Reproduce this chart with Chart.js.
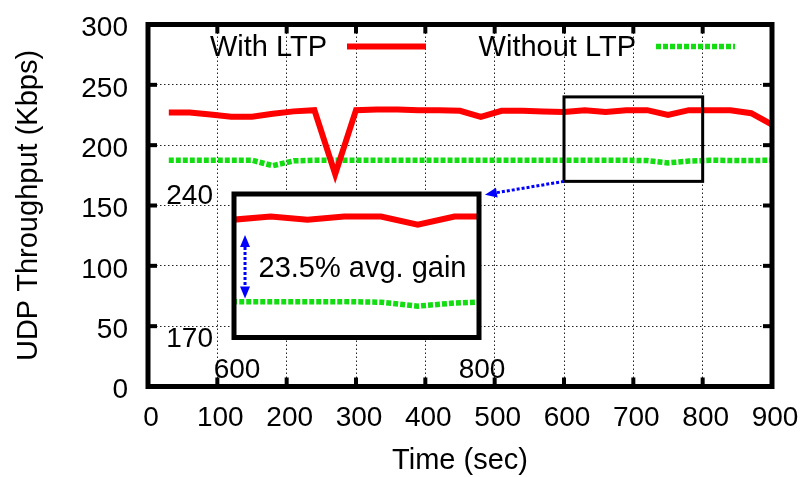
<!DOCTYPE html>
<html>
<head>
<meta charset="utf-8">
<title>UDP throughput</title>
<script src="https://cdn.jsdelivr.net/npm/chart.js@4.4.0/dist/chart.umd.min.js"></script>
<style>
  html, body { margin: 0; padding: 0; background: #fff; }
  #wrap { position: relative; width: 801px; height: 477px; overflow: hidden; }
  #main { position: absolute; left: 0; top: 0; }
  #inset { position: absolute; left: 150px; top: 170px; }
</style>
</head>
<body>
<div id="wrap">
  <canvas id="main" width="801" height="477"></canvas>
  <canvas id="inset" width="359" height="215"></canvas>
</div>
<script>
// sample times (sec) and throughput (Kbps)
const times = [30, 60, 90, 120, 150, 180, 210, 240, 270, 300, 330, 360, 390, 420, 450,
  480, 510, 540, 570, 600, 630, 660, 690, 720, 750, 780, 810, 840, 870, 900];
const withLtp = [227, 227, 225.5, 223.5, 223.5, 226, 228, 229, 176, 229, 229.5, 229.5, 229, 229, 228.5,
  223.5, 228.5, 228.5, 228, 227.5, 229, 227.5, 229, 229, 225, 229, 229, 229, 226.5, 217];
const withoutLtp = [187.5, 187.5, 187.5, 187.5, 187.5, 183, 187, 187.5, 187.5, 187.5, 187.5, 187.5, 187.5, 187.5, 187.5,
  187.5, 187.5, 187.5, 187.5, 187.5, 187.5, 187.5, 187.5, 187.2, 185.3, 186.8, 187.5, 187.3, 187.3, 187.5];
const seriesNames = ["With LTP", "Without LTP"];

// axes
const xRange = [0, 900];
const yRange = [0, 300];
const xStep = 100;
const yStep = 50;

// zoomed window shown in the inset
const zoomX = [600, 800];
const zoomY = [170, 240];
const gainText = "23.5% avg. gain";

const FONT = "'Liberation Sans', Arial, Helvetica, sans-serif";
const RED = "#ff0000";
const GREEN = "#11dd11";
const BLUE = "#0000ff";

const points = (vals) => times.map((t, i) => ({ x: t, y: vals[i] }));

function redSeries(clip) {
  return {
    label: seriesNames[0],
    data: points(withLtp),
    borderColor: RED,
    borderWidth: 6,
    borderJoinStyle: "miter",
    pointRadius: 0,
    tension: 0,
    clip: clip,
  };
}

function greenSeries(clip) {
  return {
    label: seriesNames[1],
    data: points(withoutLtp),
    borderColor: GREEN,
    borderWidth: 5.5,
    borderDash: [5, 2],
    pointRadius: 0,
    tension: 0,
    clip: clip,
  };
}

// keep the plot box where it is: no extra room for edge labels
function fixX(height) {
  return (s) => { s.height = height; s.paddingLeft = 0; s.paddingRight = 0; };
}
function fixY(width) {
  return (s) => { s.width = width; s.paddingTop = 0; s.paddingBottom = 0; };
}

// dotted blue arrow, filled head at the end (and at the start if both)
function drawArrow(ctx, x0, y0, x1, y1, both) {
  const ang = Math.atan2(y1 - y0, x1 - x0);
  const head = 12, half = 5;
  const sx = both ? x0 + Math.cos(ang) * head : x0;
  const sy = both ? y0 + Math.sin(ang) * head : y0;
  const ex = x1 - Math.cos(ang) * head;
  const ey = y1 - Math.sin(ang) * head;
  ctx.save();
  ctx.strokeStyle = BLUE;
  ctx.fillStyle = BLUE;
  ctx.lineWidth = 3;
  ctx.setLineDash([3, 2]);
  ctx.beginPath();
  ctx.moveTo(sx, sy);
  ctx.lineTo(ex, ey);
  ctx.stroke();
  ctx.setLineDash([]);
  const tip = (tx, ty, a) => {
    ctx.beginPath();
    ctx.moveTo(tx, ty);
    ctx.lineTo(tx - Math.cos(a) * head - Math.sin(a) * half, ty - Math.sin(a) * head + Math.cos(a) * half);
    ctx.lineTo(tx - Math.cos(a) * head + Math.sin(a) * half, ty - Math.sin(a) * head - Math.cos(a) * half);
    ctx.closePath();
    ctx.fill();
  };
  tip(x1, y1, ang);
  if (both) tip(x0, y0, ang + Math.PI);
  ctx.restore();
}

function segment(ctx, x0, y0, x1, y1) {
  ctx.beginPath();
  ctx.moveTo(x0, y0);
  ctx.lineTo(x1, y1);
  ctx.stroke();
}

// border, mirrored tics, zoom box, pointer and key for the main plot
const mainDecor = {
  id: "mainDecor",
  afterDatasetsDraw(chart) {
    const { ctx, chartArea: a, scales: { x, y } } = chart;
    ctx.save();
    ctx.strokeStyle = "#000";

    const bx0 = x.getPixelForValue(zoomX[0]);
    const bx1 = x.getPixelForValue(zoomX[1]);
    const by0 = y.getPixelForValue(zoomY[1]);
    const by1 = y.getPixelForValue(zoomY[0]);
    ctx.lineWidth = 3;
    ctx.strokeRect(bx0, by0, bx1 - bx0, by1 - by0);
    drawArrow(ctx, bx0, by1, x.getPixelForValue(486), y.getPixelForValue(159), false);

    ctx.lineWidth = 5;
    ctx.strokeRect(a.left, a.top, a.width, a.height);
    ctx.lineWidth = 4;
    x.ticks.forEach((t) => {
      if (t.value <= x.min || t.value >= x.max) return;
      const px = x.getPixelForValue(t.value);
      segment(ctx, px, a.bottom, px, a.bottom - 9);
      segment(ctx, px, a.top, px, a.top + 9);
    });
    y.ticks.forEach((t) => {
      if (t.value <= y.min || t.value >= y.max) return;
      const py = y.getPixelForValue(t.value);
      segment(ctx, a.left, py, a.left + 9, py);
      segment(ctx, a.right, py, a.right - 9, py);
    });

    // key
    ctx.font = "29px " + FONT;
    ctx.fillStyle = "#000";
    ctx.textAlign = "right";
    ctx.textBaseline = "middle";
    const ky = a.top + 22;
    const keys = [
      { text: seriesNames[0], end: a.left + 179, ds: chart.data.datasets[0] },
      { text: seriesNames[1], end: a.left + 488, ds: chart.data.datasets[1] },
    ];
    keys.forEach((k) => {
      ctx.fillText(k.text, k.end, ky + 1.5);
      ctx.strokeStyle = k.ds.borderColor;
      ctx.lineWidth = k.ds.borderWidth;
      ctx.setLineDash(k.ds.borderDash || []);
      segment(ctx, k.end + 20, ky, k.end + 99, ky);
    });
    ctx.restore();
  },
};

new Chart(document.getElementById("main"), {
  type: "line",
  data: { datasets: [redSeries(false), greenSeries(false)] },
  options: {
    responsive: false,
    animation: false,
    events: [],
    layout: { padding: { top: 24.5, right: 29, left: 0, bottom: 0 } },
    plugins: { legend: { display: false }, tooltip: { enabled: false } },
    scales: {
      x: {
        type: "linear",
        min: xRange[0],
        max: xRange[1],
        afterFit: fixX(90.5),
        grid: { color: "#222", lineWidth: 1, drawTicks: false },
        border: { display: false, dash: [1.5, 2.5] },
        ticks: {
          stepSize: xStep,
          padding: 15,
          labelOffset: 3,
          maxRotation: 0,
          color: "#000",
          font: { family: FONT, size: 28 },
        },
        title: {
          display: true,
          text: "Time (sec)",
          color: "#000",
          font: { family: FONT, size: 29, lineHeight: 1 },
          padding: { top: 0, bottom: 1.5 },
        },
      },
      y: {
        min: yRange[0],
        max: yRange[1],
        afterFit: fixY(148),
        grid: { color: "#222", lineWidth: 1, drawTicks: false },
        border: { display: false, dash: [1.5, 2.5] },
        ticks: {
          stepSize: yStep,
          padding: 20,
          labelOffset: 4,
          color: "#000",
          font: { family: FONT, size: 28 },
        },
        title: {
          display: true,
          text: "UDP Throughput (Kbps)",
          color: "#000",
          font: { family: FONT, size: 29, lineHeight: 1 },
          padding: { top: 14.5, bottom: 0 },
        },
      },
    },
  },
  plugins: [mainDecor],
});

// inset: white panel, thick frame, gain marker
const insetDecor = {
  id: "insetDecor",
  beforeDatasetsDraw(chart) {
    const { ctx, chartArea: a } = chart;
    ctx.save();
    ctx.fillStyle = "#fff";
    ctx.fillRect(a.left, a.top, a.width, a.height);
    ctx.restore();
  },
  afterDatasetsDraw(chart) {
    const { ctx, chartArea: a, scales: { x, y } } = chart;
    ctx.save();
    ctx.strokeStyle = "#000";
    ctx.lineWidth = 5;
    ctx.strokeRect(a.left, a.top, a.width, a.height);
    const ax = x.getPixelForValue(609);
    drawArrow(ctx, ax, y.getPixelForValue(220), ax, y.getPixelForValue(189), true);
    ctx.font = "29px " + FONT;
    ctx.fillStyle = "#000";
    ctx.textAlign = "left";
    ctx.textBaseline = "middle";
    ctx.fillText(gainText, x.getPixelForValue(620), y.getPixelForValue(204) + 1.5);
    ctx.restore();
  },
};

new Chart(document.getElementById("inset"), {
  type: "line",
  data: { datasets: [redSeries(0), greenSeries(0)] },
  options: {
    responsive: false,
    animation: false,
    events: [],
    layout: { padding: { top: 24, right: 30, left: 0, bottom: 0 } },
    plugins: { legend: { display: false }, tooltip: { enabled: false } },
    scales: {
      x: {
        type: "linear",
        min: zoomX[0],
        max: zoomX[1],
        afterBuildTicks: (s) => { s.ticks = zoomX.map((v) => ({ value: v })); },
        afterFit: fixX(47.5),
        grid: { display: false, drawTicks: false },
        border: { display: false },
        ticks: {
          padding: 16,
          labelOffset: 3,
          maxRotation: 0,
          autoSkip: false,
          color: "#000",
          font: { family: FONT, size: 28 },
        },
      },
      y: {
        min: zoomY[0],
        max: zoomY[1],
        afterBuildTicks: (s) => { s.ticks = zoomY.map((v) => ({ value: v })); },
        afterFit: fixY(84),
        grid: { display: false, drawTicks: false },
        border: { display: false },
        ticks: {
          padding: 21,
          labelOffset: 2,
          autoSkip: false,
          color: "#000",
          font: { family: FONT, size: 28 },
        },
      },
    },
  },
  plugins: [insetDecor],
});
</script>
</body>
</html>
